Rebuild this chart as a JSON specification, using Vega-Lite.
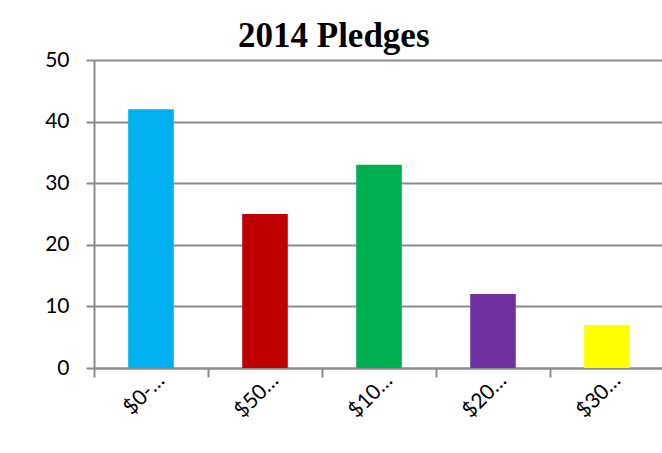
{
  "$schema": "https://vega.github.io/schema/vega-lite/v6.json",
  "autosize": {"type": "none"},
  "width": 570,
  "height": 308,
  "padding": {"left": 94, "top": 60, "right": 0, "bottom": 85},
  "background": "white",
  "title": {
    "text": "2014 Pledges",
    "font": "Liberation Serif",
    "fontSize": 35,
    "fontWeight": "bold",
    "color": "black",
    "anchor": "start",
    "frame": "group",
    "dx": 144,
    "dy": 44,
    "baseline": "bottom",
    "offset": 4
  },
  "data": {
    "values": [
      {"range": "$0-…", "pledges": 42, "color": "#00B0F0"},
      {"range": "$50…", "pledges": 25, "color": "#C00000"},
      {"range": "$10…", "pledges": 33, "color": "#00B050"},
      {"range": "$20…", "pledges": 12, "color": "#7030A0"},
      {"range": "$30…", "pledges": 7, "color": "#FFFF00"}
    ]
  },
  "mark": {"type": "bar", "width": {"band": 0.4}},
  "encoding": {
    "x": {
      "field": "range",
      "type": "nominal",
      "sort": null,
      "scale": {"paddingInner": 0, "paddingOuter": 0},
      "axis": {
        "title": null,
        "labelAngle": -45,
        "labelAlign": "right",
        "labelBaseline": "middle",
        "labelFont": "Lato",
        "labelFontSize": 21,
        "labelColor": "black",
        "labelPadding": 0,
        "labelOffset": 10,
        "tickBand": "extent",
        "tickSize": 9,
        "tickWidth": 2,
        "tickColor": "#8c8c8c",
        "domainColor": "#8c8c8c",
        "domainWidth": 2,
        "grid": false
      }
    },
    "y": {
      "field": "pledges",
      "type": "quantitative",
      "scale": {"domain": [0, 50], "nice": false},
      "axis": {
        "title": null,
        "values": [0, 10, 20, 30, 40, 50],
        "labelFont": "Lato",
        "labelFontSize": 21,
        "labelColor": "black",
        "labelPadding": 17,
        "tickSize": 8,
        "tickWidth": 2,
        "tickColor": "#8c8c8c",
        "domainColor": "#8c8c8c",
        "domainWidth": 2,
        "grid": true,
        "gridColor": "#8c8c8c",
        "gridWidth": 2,
        "gridOpacity": 1
      }
    },
    "color": {"field": "color", "type": "nominal", "scale": null, "legend": null}
  },
  "config": {"view": {"stroke": null}}
}
